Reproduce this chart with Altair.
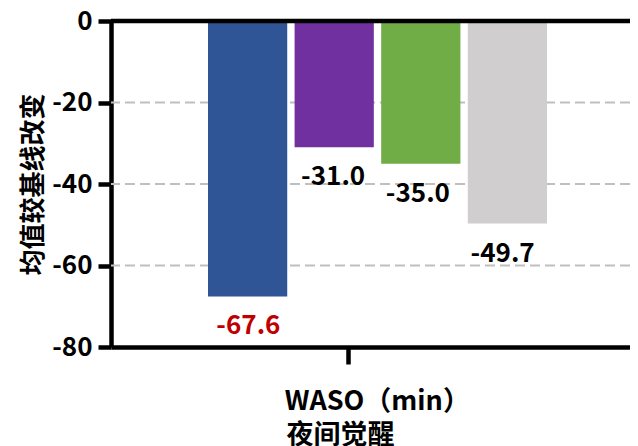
import altair as alt
import pandas as pd

groups = ["组1", "组2", "组3", "组4"]
values = [-67.6, -31.0, -35.0, -49.7]
colors = ["#2F5597", "#7030A0", "#70AD47", "#D0CECE"]
y_ticks = [0, -20, -40, -60, -80]
grid_values = [-20, -40, -60]
category = ["WASO（min）"]
x_title = "夜间觉醒"
y_title = "均值较基线改变"

FONT = "Noto Sans CJK SC"

df = pd.DataFrame({
    "group": groups,
    "value": values,
    "label": [f"{v:.1f}" for v in values],
})
cat_df = pd.DataFrame({"cat": category})
grid_df = pd.DataFrame({"g": grid_values})

band = alt.Scale(paddingInner=0.085, paddingOuter=0, range=[97, 436])
xband = alt.X("group:N", sort=groups, axis=None, scale=band)

yaxis = alt.Axis(
    values=y_ticks,
    domainColor="black", domainWidth=4.5,
    tickColor="black", tickWidth=4.5, tickSize=13,
    labelFont=FONT, labelFontWeight="bold", labelFontSize=26, labelColor="black",
    labelPadding=6, labelExpr="replace(datum.label, '\u2212', '-')",
    grid=False,
    titleFont=FONT, titleFontSize=26, titleFontWeight="bold", titleColor="black",
    titleX=-78, titleY=163, titleAngle=270, titleBaseline="middle", titleAlign="center",
)
yscale = alt.Scale(domain=[-80, 0], nice=False)
yenc = alt.Y("value:Q", scale=yscale, axis=yaxis, title=y_title)

grid = alt.Chart(grid_df).mark_rule(color="#BFBFBF", strokeWidth=2, strokeDash=[10, 5]).encode(
    y=alt.Y("g:Q", scale=yscale, axis=yaxis, title=y_title)
)

bars = alt.Chart(df).mark_bar().encode(
    x=xband,
    y=yenc,
    color=alt.Color("group:N", scale=alt.Scale(domain=groups, range=colors), legend=None),
)

labels = alt.Chart(df).mark_text(
    dy=30, dx=-2, font=FONT, fontWeight="bold", fontSize=26, baseline="middle", align="center"
).encode(
    x=xband,
    y=alt.Y("value:Q"),
    text="label:N",
    color=alt.condition(alt.datum.group == groups[0], alt.value("#C00000"), alt.value("black")),
)

zero = alt.Chart(cat_df).mark_rule(color="black", strokeWidth=4.5).encode(y=alt.datum(0))

xaxis = alt.Axis(
    orient="bottom",
    domainColor="black", domainWidth=4.5,
    tickColor="black", tickWidth=4.5, tickSize=17,
    labelFont=FONT, labelFontWeight="bold", labelFontSize=27, labelColor="black",
    labelAlign="left", labelOffset=-64, labelBaseline="middle", labelPadding=37,
    labelAngle=0, labelLimit=400,
    titleFont=FONT, titleFontSize=27, titleFontWeight="bold", titleColor="black",
    titleX=175, titleY=88, titleAlign="left", titleBaseline="middle",
)
axis_layer = alt.Chart(cat_df).mark_point(opacity=0).encode(
    x=alt.X("cat:N", scale=alt.Scale(type="point", padding=0, align=0.457), axis=xaxis, title=x_title),
)

chart = alt.layer(grid, bars, labels, zero, axis_layer).resolve_scale(x="independent").resolve_axis(x="independent").properties(
    width=519, height=326,
    padding={"left": 103, "top": 13, "right": 0, "bottom": 99},
    autosize=alt.AutoSizeParams(type="none"),
).configure_view(stroke=None).configure(background="white")

chart.save("out.html", embed_options={"renderer": "svg", "actions": False})
